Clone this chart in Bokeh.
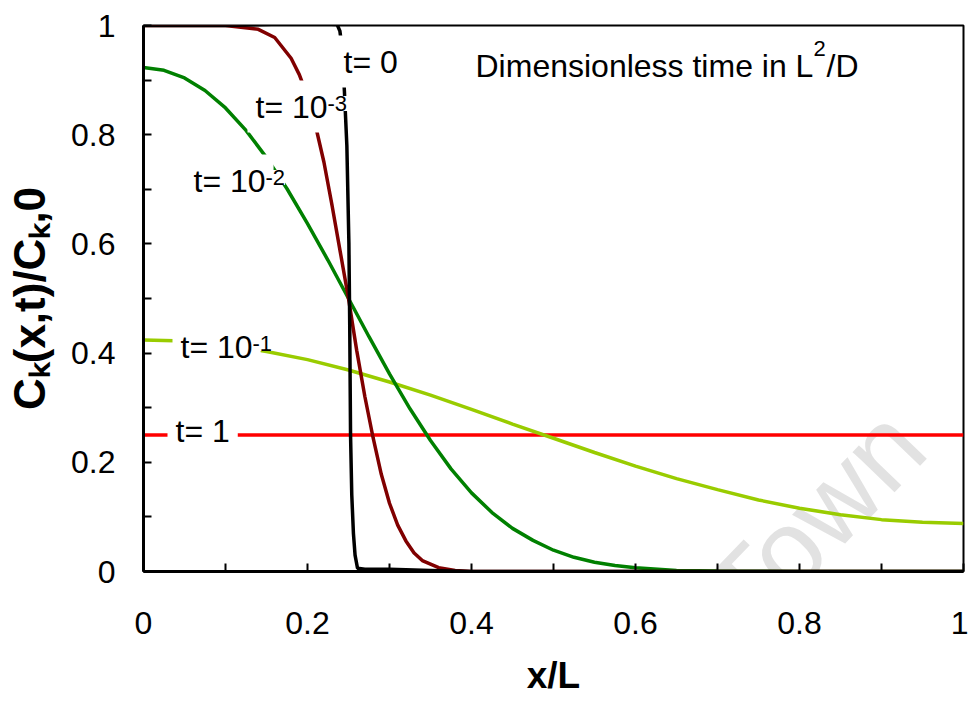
from bokeh.plotting import figure
from bokeh.models import Label, FixedTicker, Range1d
from bokeh.embed import file_html
from bokeh.resources import INLINE

# ---------------- data ----------------
x_t0 = [0.0, 0.1, 0.2, 0.236, 0.2395, 0.242, 0.245, 0.248, 0.2505, 0.2515, 0.2525,
        0.254, 0.256, 0.258, 0.261, 0.27, 0.3, 0.35, 0.4, 0.6, 0.8, 1.0]
c_t0 = [1.0, 1.0, 1.004, 1.002, 0.99, 0.96, 0.88, 0.78, 0.6, 0.45, 0.25,
        0.14, 0.07, 0.03, 0.006, 0.004, 0.004, 0.002, 0.0, 0.0, 0.0, 0.0]

x_t3 = [0.0, 0.1, 0.14, 0.16, 0.18, 0.19, 0.2, 0.21, 0.22, 0.23, 0.24, 0.25, 0.26,
        0.27, 0.28, 0.29, 0.3, 0.31, 0.32, 0.33, 0.34, 0.36, 0.38, 0.4, 0.6, 0.8, 1.0]
c_t3 = [1.0, 1.0, 0.993, 0.978, 0.94, 0.91, 0.87, 0.815, 0.75, 0.67, 0.585, 0.5, 0.405,
        0.32, 0.245, 0.178, 0.125, 0.085, 0.056, 0.034, 0.02, 0.007, 0.002, 0.0, 0.0, 0.0, 0.0]

x_t2 = [0.0, 0.025, 0.05, 0.075, 0.1, 0.125, 0.15, 0.175, 0.2, 0.225, 0.25, 0.275, 0.3,
        0.325, 0.35, 0.375, 0.4, 0.425, 0.45, 0.475, 0.5, 0.525, 0.55, 0.575, 0.6,
        0.65, 0.7, 0.8, 0.9, 1.0]
c_t2 = [0.923, 0.918, 0.904, 0.881, 0.849, 0.808, 0.758, 0.701, 0.637, 0.57, 0.5, 0.43, 0.362,
        0.298, 0.24, 0.188, 0.144, 0.108, 0.079, 0.057, 0.039, 0.026, 0.017, 0.011, 0.007,
        0.002, 0.001, 0.0, 0.0, 0.0]

x_t1 = [0.0, 0.05, 0.1, 0.15, 0.2, 0.25, 0.3, 0.35, 0.4, 0.45, 0.5, 0.55, 0.6, 0.65,
        0.7, 0.75, 0.8, 0.85, 0.9, 0.95, 1.0]
c_t1 = [0.424, 0.422, 0.415, 0.403, 0.388, 0.369, 0.347, 0.323, 0.297, 0.27, 0.244, 0.218,
        0.193, 0.17, 0.15, 0.131, 0.116, 0.104, 0.095, 0.09, 0.088]

x_t100 = [0.0, 1.0]
c_t100 = [0.25, 0.25]

x_ticks = [0, 0.2, 0.4, 0.6, 0.8, 1]
x_minor = [0.1, 0.3, 0.5, 0.7, 0.9]
y_ticks = [0, 0.2, 0.4, 0.6, 0.8, 1]
y_minor = [0.1, 0.3, 0.5, 0.7, 0.9]
tick_text = {0: "0", 1: "1"}

x_title = "x/L"
y_title = "C\u2096(x,t)/C\u2096,0"

# ---------------- layout (canvas pixels) ----------------
W, H = 968, 706
FL, FR, FT, FB = 143, 963, 25, 571   # frame edges on the canvas
FONT = "Liberation Sans"


def X(px):
    return (px - FL) / (FR - FL)


def Y(py):
    return (FB - py) / (FB - FT)


p = figure(width=W, height=H, x_range=Range1d(0, 1), y_range=Range1d(0, 1),
           output_backend="svg", toolbar_location=None,
           min_border_left=FL, min_border_right=W - FR, min_border_top=FT,
           min_border_bottom=H - FB)
p.xgrid.visible = False
p.ygrid.visible = False
p.background_fill_color = "white"
p.border_fill_color = "white"
p.outline_line_color = "black"
p.outline_line_width = 2

for ax, tk, mn in ((p.xaxis, x_ticks, x_minor), (p.yaxis, y_ticks, y_minor)):
    ax.ticker = FixedTicker(ticks=tk, minor_ticks=mn)
    ax.major_label_overrides = tick_text
    ax.axis_line_width = 3
    ax.axis_line_color = "black"
    ax.major_tick_in = 8
    ax.major_tick_out = 0
    ax.minor_tick_in = 8
    ax.minor_tick_out = 0
    ax.major_tick_line_width = 2
    ax.minor_tick_line_width = 2
    ax.major_tick_line_color = "black"
    ax.minor_tick_line_color = "black"
    ax.major_label_text_font = FONT
    ax.major_label_text_font_size = "32px"
    ax.major_label_text_color = "black"
    ax.axis_label_text_font = FONT
    ax.axis_label_text_font_style = "bold"
    ax.axis_label_text_color = "black"
p.xaxis.major_label_standoff = 40
p.yaxis.major_label_standoff = 28
p.xaxis.axis_label = x_title
p.xaxis.axis_label_text_font_size = "37px"
p.xaxis.axis_label_standoff = 18
p.yaxis.axis_label = y_title
p.yaxis.axis_label_text_font_size = "44px"
p.yaxis.axis_label_standoff = 14

# faint watermark of the source document
p.add_layout(Label(x=X(905), y=Y(425), text="University of Cape Town", text_font=FONT,
                   text_font_size="110px", text_color="#e2e2e2", angle=46, angle_units="deg",
                   text_align="right", text_baseline="alphabetic", level="underlay"))

LW = 3.5
p.line(x_t100, c_t100, line_color="#ff0000", line_width=LW)
p.line(x_t1, c_t1, line_color="#99cc00", line_width=LW)
p.line(x_t2, c_t2, line_color="#008000", line_width=LW)
p.line(x_t3, c_t3, line_color="#800000", line_width=LW)
p.line(x_t0, c_t0, line_color="black", line_width=LW)

SHIFT_Y = 12   # extra upward offset of a padded label box


def lab(text, px, py, size=32, bg=True, pad=8):
    kw = dict(text=text, text_font=FONT, text_font_size=f"{size}px", text_color="black",
              text_align="left", text_baseline="alphabetic")
    if bg:
        kw["background_fill_color"] = "white"
        kw["padding"] = pad
        px -= pad
        py -= pad * SHIFT_Y / 8
    p.add_layout(Label(x=X(px), y=Y(py), **kw))


# curve labels (superscripts after their base so their boxes stay behind the text)
lab("t= 10", 193, 192)
lab("-2", 265, 177, size=22, pad=0)
lab("t= 10", 255, 118)
lab("-3", 327, 103, size=22, pad=0)
lab("t= 0", 343, 73)
lab("t= 10", 180, 358)
lab("-1", 252, 343, size=22, pad=0)
lab("t= 1", 175, 442)

# annotation text
lab("Dimensionless time in L", 475, 65, bg=False)
lab("2", 813, 48, size=22, bg=False)
lab("/D", 826, 65, bg=False)

open("out.html", "w").write(file_html(p, INLINE))
